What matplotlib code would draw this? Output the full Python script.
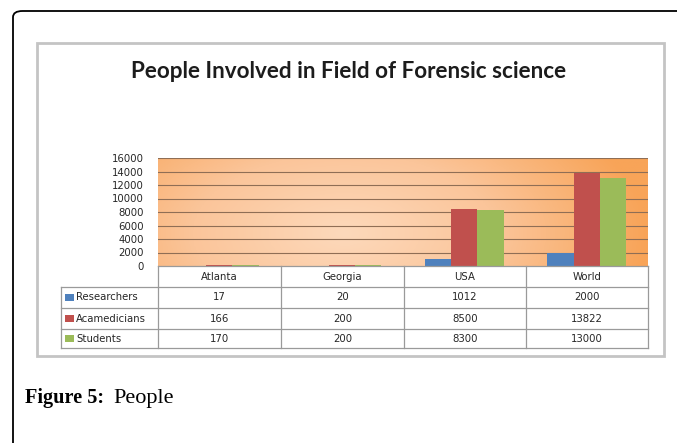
import numpy as np
import matplotlib.pyplot as plt
from matplotlib.colors import LinearSegmentedColormap
from matplotlib.patches import Rectangle, FancyBboxPatch
from matplotlib.lines import Line2D

# data
places = ['Atlanta', 'Georgia', 'USA', 'World']
series = ['Researchers', 'Acamedicians', 'Students']
researchers = [17, 20, 1012, 2000]
acamedicians = [166, 200, 8500, 13822]
students = [170, 200, 8300, 13000]
colors = ['#4f81bd', '#c0504d', '#9bbb59']

W, H = 677, 443
fig = plt.figure(figsize=(W / 100, H / 100), dpi=100)
fig.patch.set_facecolor('white')
TFONT = 'Lato'
SFONT = 'DejaVu Sans'
SMALL = 7.3


def fx(x):
    return x / W


def fy(y):
    return 1 - y / H


# outer page frame (rounded top-left corner)
fig.add_artist(FancyBboxPatch((fx(13), fy(470)), fx(700), fy(11) - fy(470),
                              boxstyle='round,pad=0,rounding_size=0.014',
                              transform=fig.transFigure, fill=False,
                              edgecolor='black', lw=1.3))

# chart panel
fig.add_artist(Rectangle((fx(37), fy(356)), fx(664 - 37), fy(43) - fy(356),
                         transform=fig.transFigure, fill=False,
                         edgecolor='#c4c4c4', lw=2))

fig.text(fx(349), fy(71), 'People Involved in Field of Forensic science',
         ha='center', va='center', fontsize=16.2, family=TFONT, weight='bold',
         color='#1c1c1c')

# plot area
x0, x1, ytop, ybot = 158, 648, 158, 266
ax = fig.add_axes([fx(x0), fy(ybot), fx(x1 - x0), fy(ytop) - fy(ybot)])
ax.set_xlim(0, 4)
ax.set_ylim(0, 16000)

# orange gradient background
gx = np.linspace(0, 1, 300)
gy = np.linspace(0, 1, 60)
GX, GY = np.meshgrid(gx, gy)
d = np.sqrt(((GX - 0.38) / 0.62) ** 2 + ((GY - 0.3) / 1.5) ** 2)
cmap = LinearSegmentedColormap.from_list('org', ['#fdd9bb', '#fbc59a', '#f8a458'])
ax.imshow(d, cmap=cmap, extent=[0, 4, 0, 16000], aspect='auto',
          origin='lower', zorder=0, vmin=0, vmax=1.0)

for v in range(2000, 16001, 2000):
    ax.axhline(v, color='#8f6e55', lw=0.8, zorder=1)

w = 0.215
pos = np.arange(len(places)) + 0.5
for i, (vals, c) in enumerate(zip([researchers, acamedicians, students], colors)):
    ax.bar(pos + (i - 1) * w, vals, width=w, color=c, zorder=2)

ax.set_yticks(range(0, 16001, 2000))
ax.set_yticklabels([str(v) for v in range(0, 16001, 2000)],
                   fontsize=SMALL, family=SFONT, color='#262626')
ax.tick_params(axis='y', length=0, pad=10)
ax.set_xticks([])
for s in ax.spines.values():
    s.set_visible(False)

# data table under the plot
col_x = [61, 158, 281, 404, 526, 648]
row_y = [266, 287, 308, 329, 348]
lc = '#9a9a9a'


def hline(x_a, x_b, y):
    fig.add_artist(Line2D([fx(x_a), fx(x_b)], [fy(y), fy(y)],
                          transform=fig.transFigure, color=lc, lw=0.9))


def vline(x, y_a, y_b):
    fig.add_artist(Line2D([fx(x), fx(x)], [fy(y_a), fy(y_b)],
                          transform=fig.transFigure, color=lc, lw=0.9))


hline(col_x[1], col_x[-1], row_y[0])
for y in row_y[1:]:
    hline(col_x[0], col_x[-1], y)
for x in col_x[1:]:
    vline(x, row_y[0], row_y[-1])
vline(col_x[0], row_y[1], row_y[-1])

for j, p in enumerate(places):
    fig.text(fx((col_x[j + 1] + col_x[j + 2]) / 2), fy((row_y[0] + row_y[1]) / 2),
             p, ha='center', va='center', fontsize=SMALL, family=SFONT, color='#262626')

for i, (name, vals, c) in enumerate(zip(series, [researchers, acamedicians, students], colors)):
    yc = (row_y[i + 1] + row_y[i + 2]) / 2
    fig.add_artist(Rectangle((fx(65), fy(yc + 3.5)), fx(9), fy(yc - 3.5) - fy(yc + 3.5),
                             transform=fig.transFigure, color=c, lw=0))
    fig.text(fx(76), fy(yc), name, ha='left', va='center', fontsize=SMALL,
             family=SFONT, color='#262626')
    for j, v in enumerate(vals):
        fig.text(fx((col_x[j + 1] + col_x[j + 2]) / 2), fy(yc), str(v),
                 ha='center', va='center', fontsize=SMALL, family=SFONT, color='#262626')

# caption
t = fig.text(fx(25), fy(403), 'Figure 5:', ha='left', va='baseline', fontsize=14.6,
             family='Liberation Serif', weight='bold', color='black')
fig.canvas.draw()
bb = t.get_window_extent()
fig.text(bb.x1 / W + fx(9), fy(403), 'People', ha='left', va='baseline',
         fontsize=16, family='Liberation Serif', color='black')

fig.savefig('out.png', dpi=100)
